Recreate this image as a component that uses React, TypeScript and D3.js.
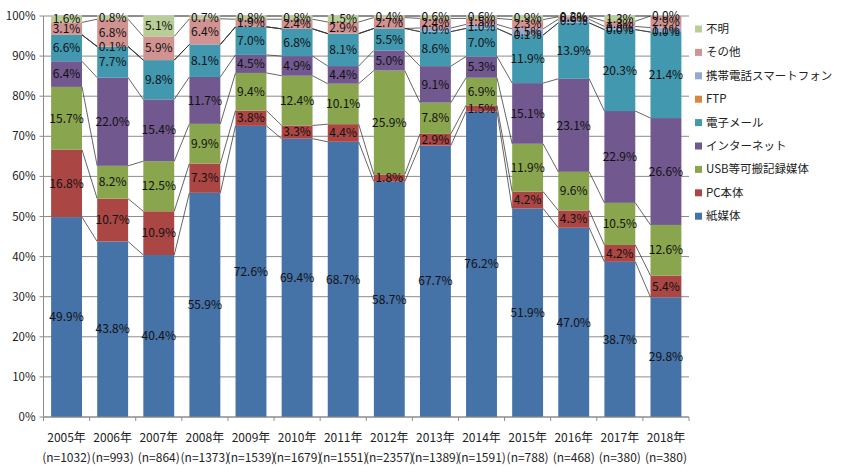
import React from 'react';
import * as d3 from 'd3';

const years = ['2005年', '2006年', '2007年', '2008年', '2009年', '2010年', '2011年', '2012年', '2013年', '2014年', '2015年', '2016年', '2017年', '2018年'];
const counts = ['(n=1032)', '(n=993)', '(n=864)', '(n=1373)', '(n=1539)', '(n=1679)', '(n=1551)', '(n=2357)', '(n=1389)', '(n=1591)', '(n=788)', '(n=468)', '(n=380)', '(n=380)'];

// series, bottom to top
const seriesNames = ['紙媒体', 'PC本体', 'USB等可搬記録媒体', 'インターネット', '電子メール', 'FTP', '携帯電話スマートフォン', 'その他', '不明'];
const seriesColors = ['#4572A7', '#AA4643', '#89A54E', '#71588F', '#4198AF', '#DB843D', '#93A9CF', '#D19392', '#B9CD96'];

const paper = [49.9, 43.8, 40.4, 55.9, 72.6, 69.4, 68.7, 58.7, 67.7, 76.2, 51.9, 47.0, 38.7, 29.8];
const pc = [16.8, 10.7, 10.9, 7.3, 3.8, 3.3, 4.4, 1.8, 2.9, 1.5, 4.2, 4.3, 4.2, 5.4];
const usb = [15.7, 8.2, 12.5, 9.9, 9.4, 12.4, 10.1, 25.9, 7.8, 6.9, 11.9, 9.6, 10.5, 12.6];
const internet = [6.4, 22.0, 15.4, 11.7, 4.5, 4.9, 4.4, 5.0, 9.1, 5.3, 15.1, 23.1, 22.9, 26.6];
const email = [6.6, 7.7, 9.8, 8.1, 7.0, 6.8, 8.1, 5.5, 8.6, 7.0, 11.9, 13.9, 20.3, 21.4];
const ftp = [null, 0.1, null, null, null, null, null, null, null, null, 0.1, null, 0.0, 0.0];
const mobile = [null, null, null, null, null, null, null, null, 0.9, 1.0, 1.5, 0.9, 0.8, 1.1];
const other = [3.1, 6.8, 5.9, 6.4, 1.9, 2.4, 2.9, 2.7, 2.4, 1.5, 2.3, 0.6, 1.3, 2.9];
const unknown = [1.6, 0.8, 5.1, 0.7, 0.8, 0.8, 1.5, 0.4, 0.6, 0.6, 0.9, 0.2, 1.3, 0.0];

const seriesValues: (number | null)[][] = [paper, pc, usb, internet, email, ftp, mobile, other, unknown];

const yTicks = [0, 0.1, 0.2, 0.3, 0.4, 0.5, 0.6, 0.7, 0.8, 0.9, 1];

const W = 850;
const H = 474;
const plot = { left: 43.5, right: 689, top: 16, bottom: 417 };
const FONT = '"Noto Sans CJK JP", "Noto Sans", sans-serif';

export default function App() {
    const rows = years.map((y, i) => {
        const r: Record<string, number> = {};
        seriesNames.forEach((s, k) => { r[s] = seriesValues[k][i] ?? 0; });
        return r;
    });

    const stack = d3.stack<Record<string, number>>()
        .keys(seriesNames)
        .offset(d3.stackOffsetExpand);
    const layers = stack(rows);

    const x = d3.scaleBand<string>()
        .domain(years)
        .range([plot.left, plot.right])
        .paddingInner(0.33)
        .paddingOuter(0.165);
    const y = d3.scaleLinear().domain([0, 1]).range([plot.bottom, plot.top]);
    const bw = x.bandwidth();
    const step = x.step();
    const pct = d3.format('.0%');
    const lbl = (v: number) => d3.format('.1f')(v) + '%';

    return (
        <svg width={W} height={H} style={{ position: 'absolute', left: 0, top: 0, background: '#fff' }}>
            {/* gridlines */}
            {yTicks.map(t => (
                <line key={'g' + t} x1={plot.left} x2={plot.right} y1={y(t)} y2={y(t)} stroke="#8c8c8c" strokeWidth={1} />
            ))}
            {/* y axis */}
            <line x1={plot.left} x2={plot.left} y1={plot.top} y2={plot.bottom} stroke="#8c8c8c" />
            {yTicks.map(t => (
                <g key={'yt' + t}>
                    <line x1={plot.left - 4} x2={plot.left} y1={y(t)} y2={y(t)} stroke="#8c8c8c" />
                    <text x={plot.left - 8} y={y(t)} dy="0.35em" textAnchor="end" fontSize={11.5} fontFamily={FONT} fill="#222">{pct(t)}</text>
                </g>
            ))}

            {/* bars */}
            {layers.map((layer, k) => (
                <g key={layer.key} fill={seriesColors[k]}>
                    {layer.map((d, i) => (
                        <rect key={i} x={x(years[i])} width={bw} y={y(d[1])} height={Math.max(0, y(d[0]) - y(d[1]))} />
                    ))}
                </g>
            ))}

            {/* series lines */}
            {layers.map(layer => (
                <g key={'sl' + layer.key} stroke="#333" strokeWidth={0.75}>
                    {layer.slice(0, -1).map((d, i) => (
                        <line key={i}
                            x1={(x(years[i]) as number) + bw} y1={y(d[1])}
                            x2={x(years[i + 1]) as number} y2={y(layer[i + 1][1])} />
                    ))}
                </g>
            ))}

            {/* x axis */}
            <line x1={plot.left} x2={plot.right} y1={plot.bottom} y2={plot.bottom} stroke="#8c8c8c" />
            {d3.range(years.length + 1).map(i => (
                <line key={'xt' + i} x1={plot.left + i * step} x2={plot.left + i * step} y1={plot.bottom} y2={plot.bottom + 4} stroke="#8c8c8c" />
            ))}
            {years.map((yr, i) => (
                <g key={'xl' + yr} fontSize={12} fontFamily={FONT} fill="#222" textAnchor="middle">
                    <text x={(x(yr) as number) + bw / 2} y={442}>{yr}</text>
                    <text x={(x(yr) as number) + bw / 2} y={462}>{counts[i]}</text>
                </g>
            ))}

            {/* data labels */}
            {layers.map((layer, k) => (
                <g key={'dl' + layer.key} fontSize={12} fontFamily={FONT} fill="#111" textAnchor="middle">
                    {layer.map((d, i) => {
                        const v = seriesValues[k][i];
                        if (v === null) return null;
                        return (
                            <text key={i} x={(x(years[i]) as number) + bw / 2} y={y((d[0] + d[1]) / 2)} dy="0.35em">{lbl(v)}</text>
                        );
                    })}
                </g>
            ))}

            {/* legend */}
            {seriesNames.slice().reverse().map((s, j) => {
                const k = seriesNames.length - 1 - j;
                const ly = 29 + j * 23.4;
                return (
                    <g key={'lg' + s}>
                        <rect x={695} y={ly - 3.5} width={7} height={7} fill={seriesColors[k]} />
                        <text x={706} y={ly} dy="0.35em" fontSize={11.5} fontFamily={FONT} fill="#222">{s}</text>
                    </g>
                );
            })}
        </svg>
    );
}
